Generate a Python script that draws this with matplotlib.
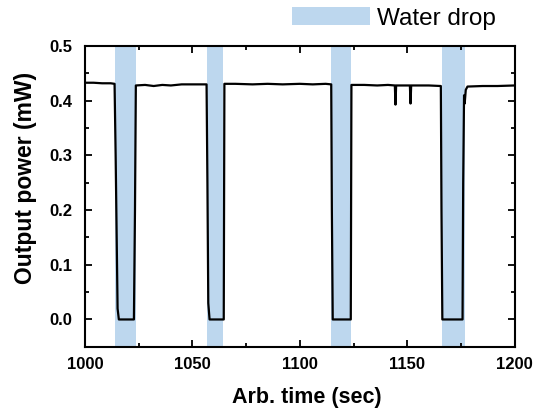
import matplotlib.pyplot as plt
from matplotlib.patches import Patch
from matplotlib.ticker import MultipleLocator

plt.rcParams['font.family'] = ['Liberation Sans', 'DejaVu Sans']

# output power trace
time = [1000, 1004, 1008, 1012, 1013.8, 1014.3, 1015.2, 1015.8, 1022.8, 1023.3, 1023.7,
        1028, 1032, 1036, 1040, 1045, 1050, 1054, 1056.6, 1057.0, 1057.4, 1058.0, 1064.6,
        1064.9, 1070, 1078, 1085, 1092, 1100, 1106, 1112, 1114.6, 1114.9, 1115.3, 1123.7,
        1124.0, 1130, 1136, 1141, 1144.2, 1144.5, 1144.8, 1148, 1151.2, 1151.5, 1151.8,
        1156, 1160, 1165.6, 1165.9, 1166.3, 1175.7, 1176.0, 1176.4, 1176.7, 1177.2, 1178,
        1185, 1192, 1200]
power = [0.433, 0.433, 0.432, 0.432, 0.431, 0.30, 0.02, 0.0, 0.0, 0.20, 0.428,
         0.429, 0.427, 0.429, 0.428, 0.430, 0.430, 0.430, 0.430, 0.25, 0.03, 0.0, 0.0,
         0.431, 0.431, 0.430, 0.431, 0.430, 0.431, 0.430, 0.431, 0.430, 0.20, 0.0, 0.0,
         0.429, 0.429, 0.428, 0.429, 0.428, 0.393, 0.428, 0.428, 0.428, 0.395, 0.428,
         0.428, 0.428, 0.427, 0.20, 0.0, 0.0, 0.25, 0.41, 0.395, 0.42, 0.426,
         0.427, 0.427, 0.428]

# water drop intervals
drop_start = [1014.0, 1056.7, 1114.3, 1166.2]
drop_end = [1024.0, 1064.2, 1124.0, 1177.0]

fig = plt.figure(figsize=(5.34, 4.08), dpi=100)
ax = fig.add_axes([0.159, 0.150, 0.805, 0.737])

for s, e in zip(drop_start, drop_end):
    ax.axvspan(s, e, color='#bdd7ee', lw=0)
ax.plot(time, power, color='black', lw=1.6)

ax.set_xlim(1000, 1200)
ax.set_ylim(-0.05, 0.5)
ax.xaxis.set_major_locator(MultipleLocator(50))
ax.xaxis.set_minor_locator(MultipleLocator(25))
ax.yaxis.set_major_locator(MultipleLocator(0.1))
ax.yaxis.set_minor_locator(MultipleLocator(0.05))
ax.set_yticks([0.0, 0.1, 0.2, 0.3, 0.4, 0.5])
ax.set_yticklabels(['0.0', '0.1', '0.2', '0.3', '0.4', '0.5'])
ax.tick_params(which='both', direction='in', top=True, right=True, width=1.3)
ax.tick_params(which='major', length=5, labelsize=12)
ax.tick_params(which='minor', length=3)
ax.tick_params(axis='x', pad=7)
ax.tick_params(axis='y', pad=9)
for lab in ax.get_xticklabels() + ax.get_yticklabels():
    lab.set_fontweight('bold')
for sp in ax.spines.values():
    sp.set_linewidth(1.5)

ax.set_xlabel('Arb. time (sec)', fontsize=15.5, fontweight='bold', labelpad=6)
ax.set_ylabel('Output power (mW)', fontsize=16.5, fontweight='bold', labelpad=9)
ax.xaxis.set_label_coords(0.516, -0.135)
ax.yaxis.label.set_y(0.56)

handle = Patch(facecolor='#bdd7ee', edgecolor='none', label='Water drop')
fig.legend(handles=[handle], loc='upper left', bbox_to_anchor=(0.547, 0.982),
           frameon=False, fontsize=17.5, handlelength=3.2, handleheight=0.74,
           handletextpad=0.3, borderpad=0, borderaxespad=0)

fig.savefig('out.png', dpi=100)
